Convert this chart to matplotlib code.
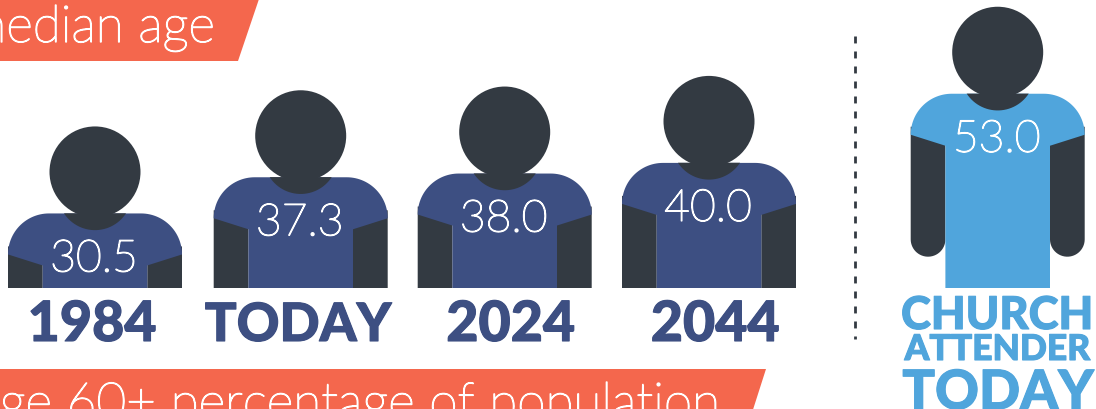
import numpy as np
import matplotlib
matplotlib.use('Agg')
import matplotlib.pyplot as plt
import matplotlib.patheffects as pe
from matplotlib.patches import Circle, Polygon, Rectangle

# median ages, the height of each figure follows the value
labels = ['1984', 'TODAY', '2024', '2044']
ages = [30.5, 37.3, 38.0, 40.0]
church_age = 53.0
church_label = ['CHURCH', 'ATTENDER', 'TODAY']
banner_top = 'median age'
banner_bottom = 'age 60+ percentage of population'

NAVY = '#3D4F82'
DARK = '#333A42'
BLUE = '#50A5DC'
ORANGE = '#F4674D'

BASE = 289.7
PX_PER_YEAR = 5.32


def thin_text(ax, x, y, s, size, **kwargs):
    # Lato Light is a bit too thin and regular too heavy, so thicken the light one
    return ax.text(x, y, s, color='white', fontsize=size, family='Lato', weight='light',
                   path_effects=[pe.withStroke(linewidth=1.0, foreground='white')], **kwargs)


def heavy_text(ax, x, y, s, size, color):
    return ax.text(x, y, s, color=color, fontsize=size, family='Lato', weight='black',
                   ha='center', va='baseline',
                   path_effects=[pe.withStroke(linewidth=0.8, foreground=color)])


def arc(cx, cy, r, start, stop):
    t = np.radians(np.linspace(start, stop, 30))
    return np.column_stack([cx + r * np.cos(t), cy + r * np.sin(t)])


def draw_person(ax, cx, age, color):
    '''One figure, cut off at the baseline so that its height shows the age'''
    top = BASE - age * PX_PER_YEAR
    clip = Rectangle((cx - 100, 0), 200, BASE - 0.7, transform=ax.transData)

    # arms
    for side in (-1, 1):
        x0 = cx + side * 69.65
        bottom = arc(x0, top + 232.6, 17.35, 0, 180)
        arm = np.vstack([[[x0 + 17.35, top + 120]], bottom, [[x0 - 17.35, top + 120]]])
        p = ax.add_patch(Polygon(arm, color=DARK, lw=0))
        p.set_clip_path(clip)

    # shirt, y axis points down so angles run the other way round
    left = arc(cx - 46, top + 128, 41, 180, 270)
    right = arc(cx + 46, top + 128, 41, 270, 360)
    shirt = np.vstack([
        [[cx - 52.3, top + 282], [cx - 52.3, top + 139]],
        left, right,
        [[cx + 52.3, top + 139], [cx + 52.3, top + 282]],
    ])
    p = ax.add_patch(Polygon(shirt, color=color, lw=0))
    p.set_clip_path(clip)

    # head and the bit of neck over the shirt
    chin = arc(cx, top + 66.7, 37, 33, 147)
    ax.add_patch(Polygon(chin, color=DARK, lw=0))
    ax.add_patch(Circle((cx, top + 45.5), 45.5, color=DARK, lw=0))

    thin_text(ax, cx - 1, top + 129.5, f'{age:.1f}', 32, ha='center', va='center_baseline')


fig = plt.figure(figsize=(10.96, 4.10), dpi=100)
ax = fig.add_axes([0, 0, 1, 1])
ax.set_xlim(0, 1096)
ax.set_ylim(410, 0)
ax.axis('off')

# banners
ax.add_patch(Polygon([[0, 0], [259, 0], [238, 62], [0, 62]], color=ORANGE, lw=0))
thin_text(ax, 215, 43, banner_top, 37, ha='right', va='baseline')
ax.add_patch(Polygon([[0, 370], [766, 370], [750, 420], [0, 420]], color=ORANGE, lw=0))
thin_text(ax, 720, 420, banner_bottom, 37, ha='right', va='baseline')

# people
centers = [95, 300.7, 504.7, 709]
label_x = [92, 298, 510.5, 715]
label_size = [40, 38, 40, 40]
for cx, lx, size, age, label in zip(centers, label_x, label_size, ages, labels):
    draw_person(ax, cx, age, NAVY)
    heavy_text(ax, lx, 342, label, size, NAVY)

draw_person(ax, 997.7, church_age, BLUE)

# divider
ax.plot([854.5, 854.5], [37, 340], color=DARK, lw=2, dashes=(2.5, 2.9))

# church attender label
heavy_text(ax, 997, 330, church_label[0], 32.5, BLUE)
heavy_text(ax, 997.5, 361, church_label[1], 25.5, BLUE)
heavy_text(ax, 998, 410, church_label[2], 39, BLUE)

fig.savefig('out.png', dpi=100)
